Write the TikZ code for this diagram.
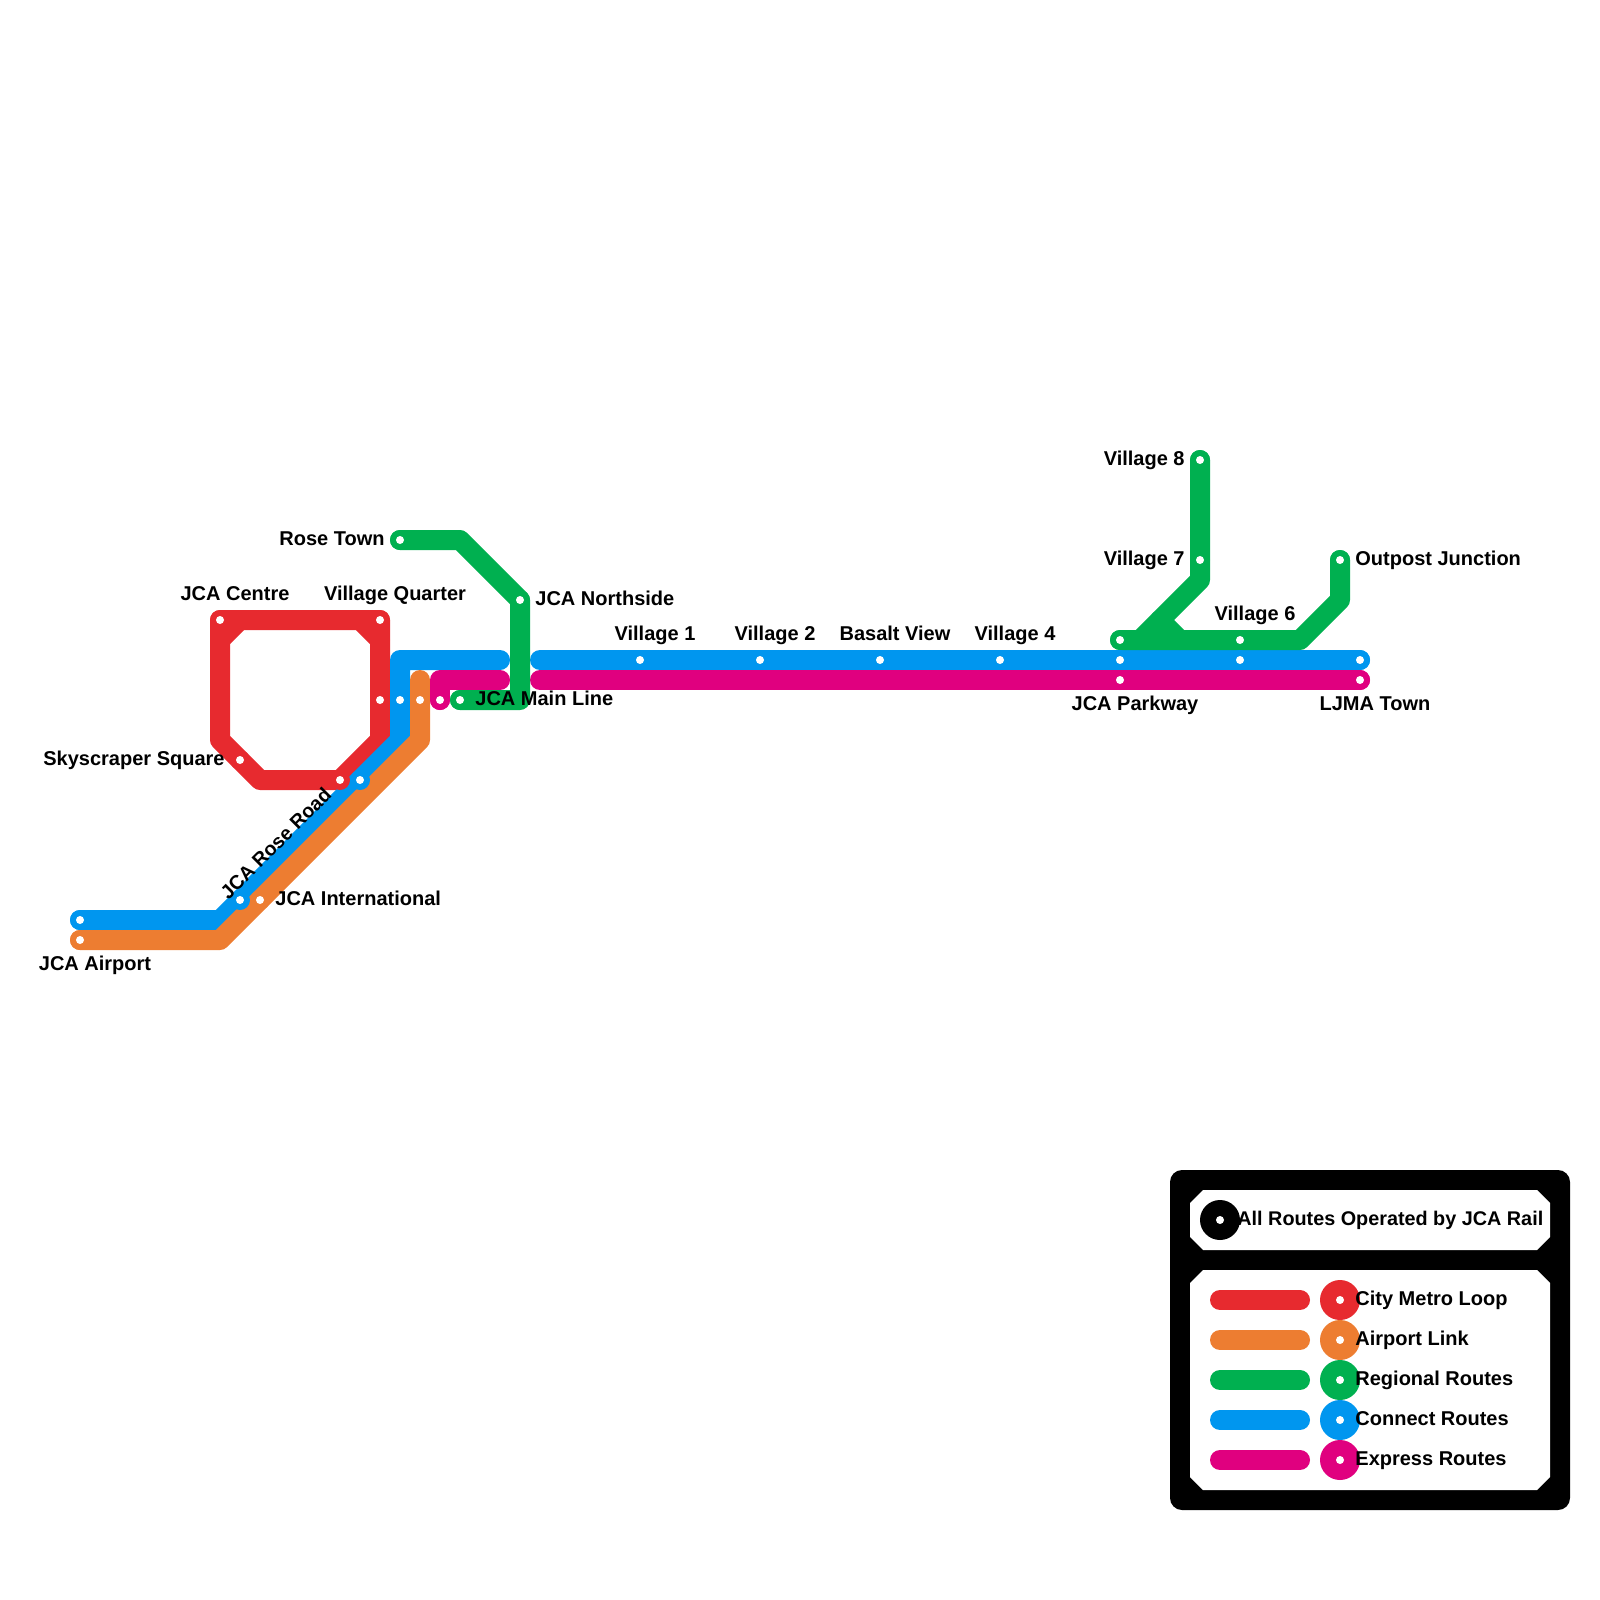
\documentclass[tikz,border=0pt]{standalone}
\usepackage{fontspec}
\setmainfont{Liberation Sans}
\usepackage{xcolor}
\usepackage{tikz}
\usetikzlibrary{positioning, calc, shapes}

\definecolor{cityred}{HTML}{E72A2F}
\definecolor{airportorange}{HTML}{ED7D31}
\definecolor{regionalgreen}{HTML}{00B050}
\definecolor{connectblue}{HTML}{0096EF}
\definecolor{expressmagenta}{HTML}{E0007F}

\tikzset{
	route/.style={line width=10pt, line cap=round, line join=round},
	stationdot/.style={circle, fill=white, inner sep=0pt, minimum size=4pt},
	stationdisc/.style={circle, inner sep=0pt, minimum size=10pt},
	legenddisc/.style={circle, inner sep=0pt, minimum size=20pt},
	stationlabel/.style={font=\bfseries\fontsize{10}{12}\selectfont, text=black, inner sep=0pt, text height=7.2pt, text depth=0pt},
}

\begin{document}
\begin{tikzpicture}[x=0.5pt, y=-0.5pt]
		\useasboundingbox (0,0) rectangle (1600,1600);
		
		% Stations
		\coordinate (jcacentre) at (220,620);
		\coordinate (villagequarter) at (380,620);
		\coordinate (loopeast) at (380,700);
		\coordinate (skyscraper) at (240,760);
		\coordinate (loopsouth) at (340,780);
		\coordinate (roadnorth) at (360,780);
		\coordinate (roseroad) at (240,900);
		\coordinate (jcaintl) at (260,900);
		\coordinate (airportblue) at (80,920);
		\coordinate (airportend) at (80,940);
		\coordinate (mainblue) at (400,700);
		\coordinate (mainorange) at (420,700);
		\coordinate (mainmagenta) at (440,700);
		\coordinate (maingreen) at (460,700);
		\coordinate (rosetown) at (400,540);
		\coordinate (northside) at (520,600);
		\coordinate (villageone) at (640,660);
		\coordinate (villagetwo) at (760,660);
		\coordinate (basalt) at (880,660);
		\coordinate (villagefour) at (1000,660);
		\coordinate (parkwaygreen) at (1120,640);
		\coordinate (parkwayblue) at (1120,660);
		\coordinate (parkwaymagenta) at (1120,680);
		\coordinate (villagesix) at (1240,640);
		\coordinate (villagefive) at (1240,660);
		\coordinate (ljmablue) at (1360,660);
		\coordinate (ljmamagenta) at (1360,680);
		\coordinate (villageseven) at (1200,560);
		\coordinate (villageeight) at (1200,460);
		\coordinate (outpost) at (1340,560);
		
		% City Metro Loop
		\draw[route, cityred] (loopsouth) -- (260,780) -- (220,740) -- (jcacentre) -- (villagequarter) -- (loopeast) -- (380,740) -- (loopsouth);
		\draw[route, cityred] (220,640) -- (240,620);
		\draw[route, cityred] (360,620) -- (380,640);
		
		% Connect Routes
		\draw[route, connectblue] (500,660) -- (400,660) -- (mainblue) -- (400,740) -- (roadnorth) -- (roseroad) -- (220,920) -- (airportblue);
		\draw[route, connectblue] (540,660) -- (ljmablue);
		
		% Airport Link
		\draw[route, airportorange] (airportend) -- (220,940) -- (420,740) -- (mainorange) -- (420,680);
		
		% Express Routes
		\draw[route, expressmagenta] (mainmagenta) -- (440,680) -- (500,680);
		\draw[route, expressmagenta] (540,680) -- (ljmamagenta);
		
		% Regional Routes
		\draw[route, regionalgreen] (rosetown) -- (460,540) -- (northside) -- (520,700) -- (maingreen);
		\draw[route, regionalgreen] (parkwaygreen) -- (villagesix) -- (1300,640) -- (1340,600) -- (outpost);
		\draw[route, regionalgreen] (villageeight) -- (villageseven) -- (1200,580) -- (1140,640);
		\draw[route, regionalgreen] (1160,620) -- (1180,640);
		
		% Station discs and dots
		\foreach \s/\c in {jcacentre/cityred, villagequarter/cityred, loopeast/cityred, skyscraper/cityred, loopsouth/cityred, roadnorth/connectblue, roseroad/connectblue, jcaintl/airportorange, airportblue/connectblue, airportend/airportorange, mainblue/connectblue, mainorange/airportorange, mainmagenta/expressmagenta, maingreen/regionalgreen, rosetown/regionalgreen, northside/regionalgreen, villageone/connectblue, villagetwo/connectblue, basalt/connectblue, villagefour/connectblue, parkwaygreen/regionalgreen, parkwayblue/connectblue, parkwaymagenta/expressmagenta, villagesix/regionalgreen, villagefive/connectblue, ljmablue/connectblue, ljmamagenta/expressmagenta, villageseven/regionalgreen, villageeight/regionalgreen, outpost/regionalgreen} {
			\node[stationdisc, fill=\c] (disc\s) at (\s) {};
			\node[stationdot] (dot\s) at (\s) {};
		}
		
		% Labels
		\node[stationlabel, anchor=east] (lblrosetown) at (385,538) {Rose Town};
		\node[stationlabel] (lbljcacentre) at (235,593) {JCA Centre};
		\node[stationlabel] (lblvillagequarter) at (395,593) {Village Quarter};
		\node[stationlabel, anchor=west] (lblnorthside) at (535,598) {JCA Northside};
		\node[stationlabel, anchor=west] (lblmainline) at (475,698) {JCA Main Line};
		\node[stationlabel, anchor=east] (lblskyscraper) at (225,758) {Skyscraper Square};
		\node[stationlabel, rotate=45, font=\bfseries\fontsize{9.8}{12}\selectfont] (lblroseroad) at (275.5,843) {JCA Rose Road};
		\node[stationlabel, anchor=west] (lblintl) at (275,898) {JCA International};
		\node[stationlabel] (lblairport) at (95,963) {JCA Airport};
		\node[stationlabel] (lblvillageone) at (655,633) {Village 1};
		\node[stationlabel] (lblvillagetwo) at (775,633) {Village 2};
		\node[stationlabel] (lblbasalt) at (895,633) {Basalt View};
		\node[stationlabel] (lblvillagefour) at (1015,633) {Village 4};
		\node[stationlabel] (lblvillagesix) at (1255,613) {Village 6};
		\node[stationlabel] (lblparkway) at (1135,703) {JCA Parkway};
		\node[stationlabel] (lblljma) at (1375,703) {LJMA Town};
		\node[stationlabel, anchor=east] (lblvillageeight) at (1185,458) {Village 8};
		\node[stationlabel, anchor=east] (lblvillageseven) at (1185,558) {Village 7};
		\node[stationlabel, anchor=west] (lbloutpost) at (1355,558) {Outpost Junction};
		
		% Legend
		\fill[black, rounded corners=6pt] (1170,1170) rectangle (1570,1510);
		\fill[white] (1203,1190) -- (1537,1190) -- (1550,1203) -- (1550,1237) -- (1537,1250) -- (1203,1250) -- (1190,1237) -- (1190,1203) -- cycle;
		\fill[white] (1203,1270) -- (1537,1270) -- (1550,1283) -- (1550,1477) -- (1537,1490) -- (1203,1490) -- (1190,1477) -- (1190,1283) -- cycle;
		\node[legenddisc, fill=black] (discrail) at (1220,1220) {};
		\node[stationdot] (dotrail) at (discrail) {};
		\node[stationlabel, anchor=west, font=\bfseries\fontsize{9.9}{12}\selectfont] (lblrail) at (1237,1218) {All Routes Operated by JCA Rail};
		\foreach \c/\t [count=\i from 0] in {cityred/City Metro Loop, airportorange/Airport Link, regionalgreen/Regional Routes, connectblue/Connect Routes, expressmagenta/Express Routes} {
			\draw[route, \c] (1220,1300+40*\i) -- (1300,1300+40*\i);
			\node[legenddisc, fill=\c] (disc\i) at (1340,1300+40*\i) {};
			\node[stationdot] (dotkey\i) at (disc\i) {};
			\node[stationlabel, anchor=west] (lblkey\i) at (1355,1298+40*\i) {\t};
		}
	\end{tikzpicture}
\end{document}
